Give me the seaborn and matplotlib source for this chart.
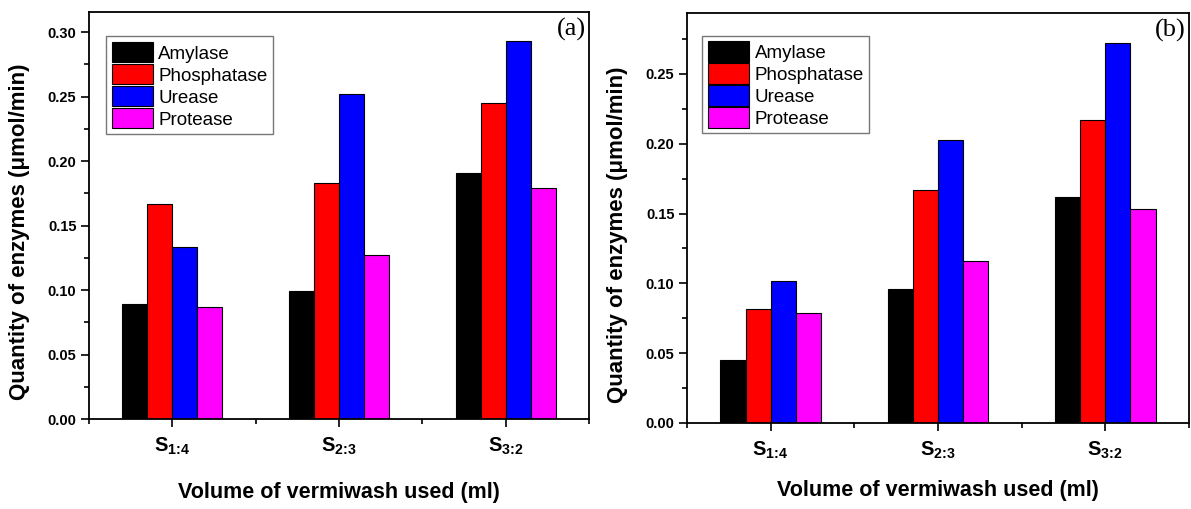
import numpy as np
import pandas as pd
import matplotlib
matplotlib.use("Agg")
import matplotlib.pyplot as plt
import seaborn as sns
from matplotlib.ticker import MultipleLocator, FixedLocator

# ---------------- data ----------------
samples = ["S1:4", "S2:3", "S3:2"]
tick_labels = [r"$\mathbf{S_{1\!:\!4}}$", r"$\mathbf{S_{2\!:\!3}}$", r"$\mathbf{S_{3\!:\!2}}$"]
enzymes = ["Amylase", "Phosphatase", "Urease", "Protease"]
colors = ["#000000", "#FF0000", "#0000FF", "#FF00FF"]

a_amylase = [0.089, 0.099, 0.191]
a_phosphatase = [0.167, 0.183, 0.245]
a_urease = [0.133, 0.252, 0.293]
a_protease = [0.087, 0.127, 0.179]

b_amylase = [0.045, 0.096, 0.162]
b_phosphatase = [0.082, 0.167, 0.217]
b_urease = [0.102, 0.203, 0.272]
b_protease = [0.079, 0.116, 0.153]

panel_letters = ["(a)", "(b)"]
y_label = "Quantity of enzymes (\u03bcmol/min)"
x_label = "Volume of vermiwash used (ml)"


def long_frame(series):
    rows = []
    for enz, vals in zip(enzymes, series):
        for s, v in zip(samples, vals):
            rows.append({"sample": s, "enzyme": enz, "value": v})
    return pd.DataFrame(rows)


df_a = long_frame([a_amylase, a_phosphatase, a_urease, a_protease])
df_b = long_frame([b_amylase, b_phosphatase, b_urease, b_protease])

# ---------------- style ----------------
sns.set_style("white")
plt.rcParams["font.family"] = ["Liberation Sans", "DejaVu Sans"]
plt.rcParams["mathtext.fontset"] = "custom"
plt.rcParams["mathtext.rm"] = "Liberation Sans"
plt.rcParams["mathtext.bf"] = "Liberation Sans:bold"
plt.rcParams["mathtext.it"] = "Liberation Sans:italic"
for k in ["text.color", "axes.labelcolor", "xtick.color", "ytick.color",
          "xtick.labelcolor", "ytick.labelcolor", "axes.edgecolor"]:
    plt.rcParams[k] = "black"

fig = plt.figure(figsize=(11.91, 5.09), dpi=100)
ax_a = fig.add_axes([0.0747, 0.1768, 0.4198, 0.7996])
ax_b = fig.add_axes([0.5768, 0.1690, 0.4215, 0.8055])

configs = [
    (ax_a, df_a, 0.3155, 0.30, (0.034, 0.94), 18),
    (ax_b, df_b, 0.2937, 0.25, (0.030, 0.945), 14),
]

for i, (ax, df, ytop, ymaxtick, legpos, xpad) in enumerate(configs):
    sns.barplot(data=df, x="sample", y="value", hue="enzyme",
                order=samples, hue_order=enzymes, palette=colors,
                width=0.6, edgecolor="black", linewidth=0.8,
                errorbar=None, saturation=1, ax=ax)
    ax.set_xlim(-0.5, 2.5)
    ax.set_ylim(0, ytop)
    ax.set_xticks(range(len(samples)))
    ax.set_xticklabels(tick_labels, fontsize=14.5, color="black")
    ax.xaxis.set_minor_locator(FixedLocator([-0.5, 0.5, 1.5, 2.5]))
    yt = np.arange(0, ymaxtick + 0.001, 0.05)
    ax.set_yticks(yt)
    ax.yaxis.set_minor_locator(MultipleLocator(0.025))
    ax.set_yticklabels([f"{v:.2f}" for v in yt], fontsize=10.5,
                       fontweight="bold", color="black")
    ax.tick_params(axis="both", which="major", direction="out", length=6,
                   width=1.2, color="black", bottom=True, left=True,
                   top=False, right=False)
    ax.tick_params(axis="both", which="minor", direction="out", length=3.5,
                   width=1.2, color="black", bottom=True, left=True,
                   top=False, right=False)
    ax.tick_params(axis="y", which="major", pad=3)
    ax.tick_params(axis="x", which="major", pad=6)
    for sp in ax.spines.values():
        sp.set_visible(True)
        sp.set_color("black")
        sp.set_linewidth(1.3)
    ax.set_ylabel(y_label, fontsize=16, fontweight="bold", color="black",
                  va="center")
    ax.yaxis.set_label_coords(-0.139, 0.46)
    ax.set_xlabel(x_label, fontsize=15.5, fontweight="bold", labelpad=xpad,
                  color="black")
    ax.grid(False)

    leg = ax.legend(loc="upper left", bbox_to_anchor=legpos, fontsize=13.5,
                    frameon=True, fancybox=False, handlelength=2.2,
                    handleheight=1.3, labelspacing=0.08, handletextpad=0.3,
                    borderpad=0.3, borderaxespad=0, title=None)
    leg.get_frame().set_edgecolor("#555555")
    leg.get_frame().set_linewidth(1.0)
    for h in leg.legend_handles:
        h.set_edgecolor("black")
        h.set_linewidth(0.8)
    for t in leg.get_texts():
        t.set_color("black")

    ax.text(0.994, 0.985, panel_letters[i], transform=ax.transAxes,
            ha="right", va="top", fontsize=19, family="Liberation Serif",
            color="black")

fig.savefig("out.png", dpi=100)
